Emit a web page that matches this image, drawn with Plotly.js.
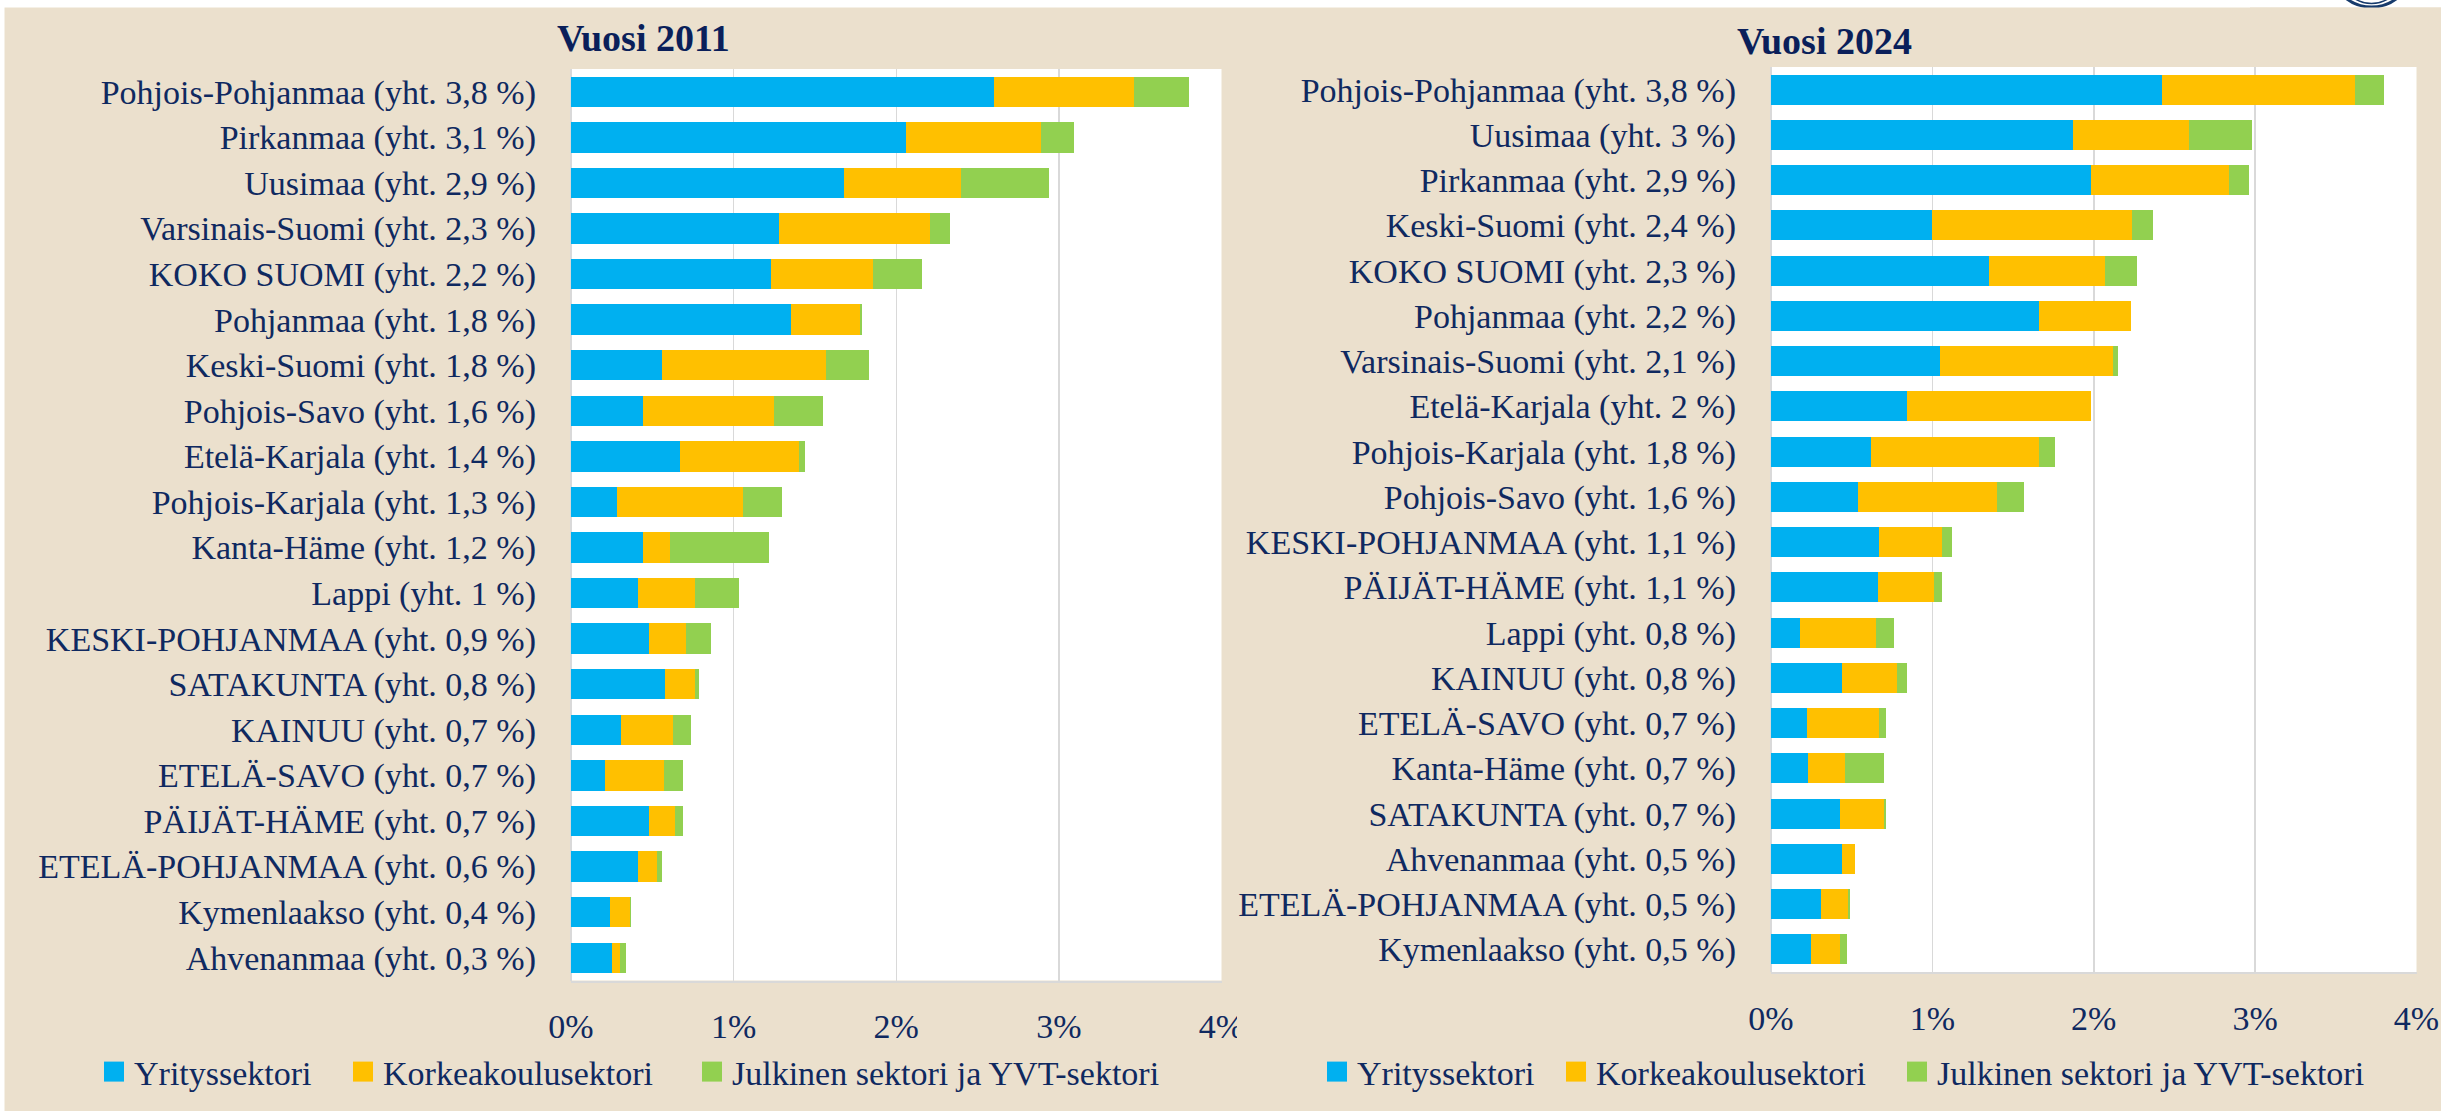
<!DOCTYPE html>
<html>
<head>
<meta charset="utf-8">
<script src="https://cdn.plot.ly/plotly-3.0.1.min.js"></script>
<style>
  html, body { margin: 0; padding: 0; background: #ffffff; }
  #chart { width: 2441px; height: 1111px; }
</style>
</head>
<body>
<div id="chart"></div>
<script>
// ---------- DATA ----------
const regions2011 = [
  "Pohjois-Pohjanmaa (yht. 3,8 %)", "Pirkanmaa (yht. 3,1 %)", "Uusimaa (yht. 2,9 %)",
  "Varsinais-Suomi (yht. 2,3 %)", "KOKO SUOMI (yht. 2,2 %)", "Pohjanmaa (yht. 1,8 %)",
  "Keski-Suomi (yht. 1,8 %)", "Pohjois-Savo (yht. 1,6 %)", "Etelä-Karjala (yht. 1,4 %)",
  "Pohjois-Karjala (yht. 1,3 %)", "Kanta-Häme (yht. 1,2 %)", "Lappi (yht. 1 %)",
  "KESKI-POHJANMAA (yht. 0,9 %)", "SATAKUNTA (yht. 0,8 %)", "KAINUU (yht. 0,7 %)",
  "ETELÄ-SAVO (yht. 0,7 %)", "PÄIJÄT-HÄME (yht. 0,7 %)", "ETELÄ-POHJANMAA (yht. 0,6 %)",
  "Kymenlaakso (yht. 0,4 %)", "Ahvenanmaa (yht. 0,3 %)"
];
const business2011 = [2.60, 2.06, 1.68, 1.28, 1.23, 1.35, 0.56, 0.44, 0.67, 0.28, 0.44, 0.41, 0.48, 0.58, 0.31, 0.21, 0.48, 0.41, 0.24, 0.25];
const higherEd2011 = [0.86, 0.83, 0.72, 0.93, 0.63, 0.43, 1.01, 0.81, 0.73, 0.78, 0.17, 0.35, 0.23, 0.18, 0.32, 0.36, 0.16, 0.12, 0.12, 0.05];
const public2011   = [0.34, 0.20, 0.54, 0.12, 0.30, 0.01, 0.26, 0.30, 0.04, 0.24, 0.61, 0.27, 0.15, 0.03, 0.11, 0.12, 0.05, 0.03, 0.01, 0.04];

const regions2024 = [
  "Pohjois-Pohjanmaa (yht. 3,8 %)", "Uusimaa (yht. 3 %)", "Pirkanmaa (yht. 2,9 %)",
  "Keski-Suomi (yht. 2,4 %)", "KOKO SUOMI (yht. 2,3 %)", "Pohjanmaa (yht. 2,2 %)",
  "Varsinais-Suomi (yht. 2,1 %)", "Etelä-Karjala (yht. 2 %)", "Pohjois-Karjala (yht. 1,8 %)",
  "Pohjois-Savo (yht. 1,6 %)", "KESKI-POHJANMAA (yht. 1,1 %)", "PÄIJÄT-HÄME (yht. 1,1 %)",
  "Lappi (yht. 0,8 %)", "KAINUU (yht. 0,8 %)", "ETELÄ-SAVO (yht. 0,7 %)",
  "Kanta-Häme (yht. 0,7 %)", "SATAKUNTA (yht. 0,7 %)", "Ahvenanmaa (yht. 0,5 %)",
  "ETELÄ-POHJANMAA (yht. 0,5 %)", "Kymenlaakso (yht. 0,5 %)"
];
const business2024 = [2.42, 1.87, 1.98, 1.00, 1.35, 1.66, 1.05, 0.84, 0.62, 0.54, 0.67, 0.66, 0.18, 0.44, 0.22, 0.23, 0.43, 0.44, 0.31, 0.25];
const higherEd2024 = [1.20, 0.72, 0.86, 1.24, 0.72, 0.57, 1.07, 1.14, 1.04, 0.86, 0.39, 0.35, 0.47, 0.34, 0.45, 0.23, 0.27, 0.08, 0.17, 0.18];
const public2024   = [0.18, 0.39, 0.12, 0.13, 0.20, 0.00, 0.03, 0.00, 0.10, 0.17, 0.06, 0.05, 0.11, 0.06, 0.04, 0.24, 0.01, 0.00, 0.01, 0.04];

const seriesNames = ["Yrityssektori", "Korkeakoulusektori", "Julkinen sektori ja YVT-sektori"];
const panelTitles = ["Vuosi 2011", "Vuosi 2024"];
const xTickVals = [0, 1, 2, 3, 4];
const xTickText = ["0%", "1%", "2%", "3%", "4%"];

// ---------- STYLE ----------
const W = 2441, H = 1111;
const px = x => x / W;
const py = y => 1 - y / H;
const colors = ["#00B0F0", "#FFC000", "#92D050"];
const FONT = "'Liberation Serif', 'Times New Roman', serif";
const NAVY = "#0F2960";
const BEIGE = "#EBE0CD";
const GRID = "#D9D9D9";

function barTrace(y, x, i, xa, ya, legendId) {
  return {
    type: "bar", orientation: "h",
    y: y, x: x, name: seriesNames[i],
    xaxis: xa, yaxis: ya,
    legend: legendId, showlegend: true,
    marker: { color: colors[i], line: { width: 0 } },
    hoverinfo: "skip"
  };
}

const data = [
  barTrace(regions2011, business2011, 0, "x", "y", "legend"),
  barTrace(regions2011, higherEd2011, 1, "x", "y", "legend2"),
  barTrace(regions2011, public2011, 2, "x", "y", "legend3"),
  barTrace(regions2024, business2024, 0, "x2", "y2", "legend4"),
  barTrace(regions2024, higherEd2024, 1, "x2", "y2", "legend5"),
  barTrace(regions2024, public2024, 2, "x2", "y2", "legend6")
];

function xAxis(dom, anchor) {
  return {
    domain: dom, anchor: anchor, range: [0, 4], fixedrange: true,
    tickvals: xTickVals, ticktext: xTickText, ticks: "",
    ticklabelstandoff: 15,
    showgrid: true, gridcolor: GRID, gridwidth: 1.5,
    zeroline: true, zerolinecolor: GRID, zerolinewidth: 2,
    showline: true, linecolor: GRID, linewidth: 2,
    tickfont: { family: FONT, size: 34, color: NAVY }
  };
}
function yAxis(dom, anchor) {
  return {
    domain: dom, anchor: anchor, type: "category", autorange: "reversed",
    fixedrange: true, ticks: "", ticklabelstandoff: 34,
    showgrid: false, zeroline: false, showline: false,
    tickfont: { family: FONT, size: 34, color: NAVY }
  };
}
// legend text should start at textStart (px); plotly puts text ~43px after legend x
function legendAt(textStart) {
  return {
    orientation: "h", x: px(textStart - 43), xanchor: "left", y: py(1072), yanchor: "middle",
    bgcolor: "rgba(0,0,0,0)", borderwidth: 0,
    font: { family: FONT, size: 34, color: NAVY },
    itemclick: false, itemdoubleclick: false
  };
}

const layout = {
  width: W, height: H,
  margin: { l: 0, r: 0, t: 0, b: 0 },
  paper_bgcolor: BEIGE, plot_bgcolor: "#FFFFFF",
  barmode: "stack", bargap: 0.333,
  font: { family: FONT, color: NAVY },
  xaxis: xAxis([px(571), px(1221.5)], "y"),
  yaxis: yAxis([py(980.5), py(69)], "x"),
  xaxis2: xAxis([px(1771), px(2416.5)], "y2"),
  yaxis2: yAxis([py(972), py(67)], "x2"),
  legend: legendAt(137),
  legend2: legendAt(386),
  legend3: legendAt(735),
  legend4: legendAt(1360),
  legend5: legendAt(1599),
  legend6: legendAt(1940),
  annotations: [
    { text: "<b>" + panelTitles[0] + "</b>", xref: "paper", yref: "paper",
      x: px(643), y: py(38), xanchor: "center", yanchor: "middle", showarrow: false,
      font: { family: FONT, size: 38, color: "#0A1F5A" } },
    { text: "<b>" + panelTitles[1] + "</b>", xref: "paper", yref: "paper",
      x: px(1824), y: py(41), xanchor: "center", yanchor: "middle", showarrow: false,
      font: { family: FONT, size: 38, color: "#0A1F5A" } }
  ],
  shapes: [
    // white page margins (top strip and left strip)
    { type: "rect", xref: "paper", yref: "paper", layer: "below",
      x0: 0, x1: 1, y0: py(7.5), y1: 1, fillcolor: "#FFFFFF", line: { width: 0 } },
    { type: "rect", xref: "paper", yref: "paper", layer: "below",
      x0: 0, x1: px(4.5), y0: 0, y1: 1, fillcolor: "#FFFFFF", line: { width: 0 } },
    // logo ring peeking at the top right
    { type: "circle", xref: "paper", yref: "paper", layer: "below",
      x0: px(2330), x1: px(2413), y0: py(7), y1: py(-76), line: { color: "#173B6C", width: 3 } },
    { type: "circle", xref: "paper", yref: "paper", layer: "below",
      x0: px(2340), x1: px(2403), y0: py(3.5), y1: py(-60), line: { color: "#173B6C", width: 1.5 } },
    { type: "rect", xref: "paper", yref: "paper", layer: "below",
      x0: px(2250), x1: 1, y0: py(60), y1: py(7.5), fillcolor: BEIGE, line: { width: 0 } },
    // right panel edge clipping the left panel's last tick label
    { type: "rect", xref: "paper", yref: "paper", layer: "above",
      x0: px(1237), x1: px(1262), y0: py(1050), y1: py(1000), fillcolor: BEIGE, line: { width: 0 } }
  ]
};

Plotly.newPlot("chart", data, layout, { staticPlot: true, displayModeBar: false }).then(() => {
  document.querySelectorAll(".legendpoints path").forEach(p => {
    p.setAttribute("d", "M10,10H-10V-10H10Z");
  });
});
</script>
</body>
</html>
